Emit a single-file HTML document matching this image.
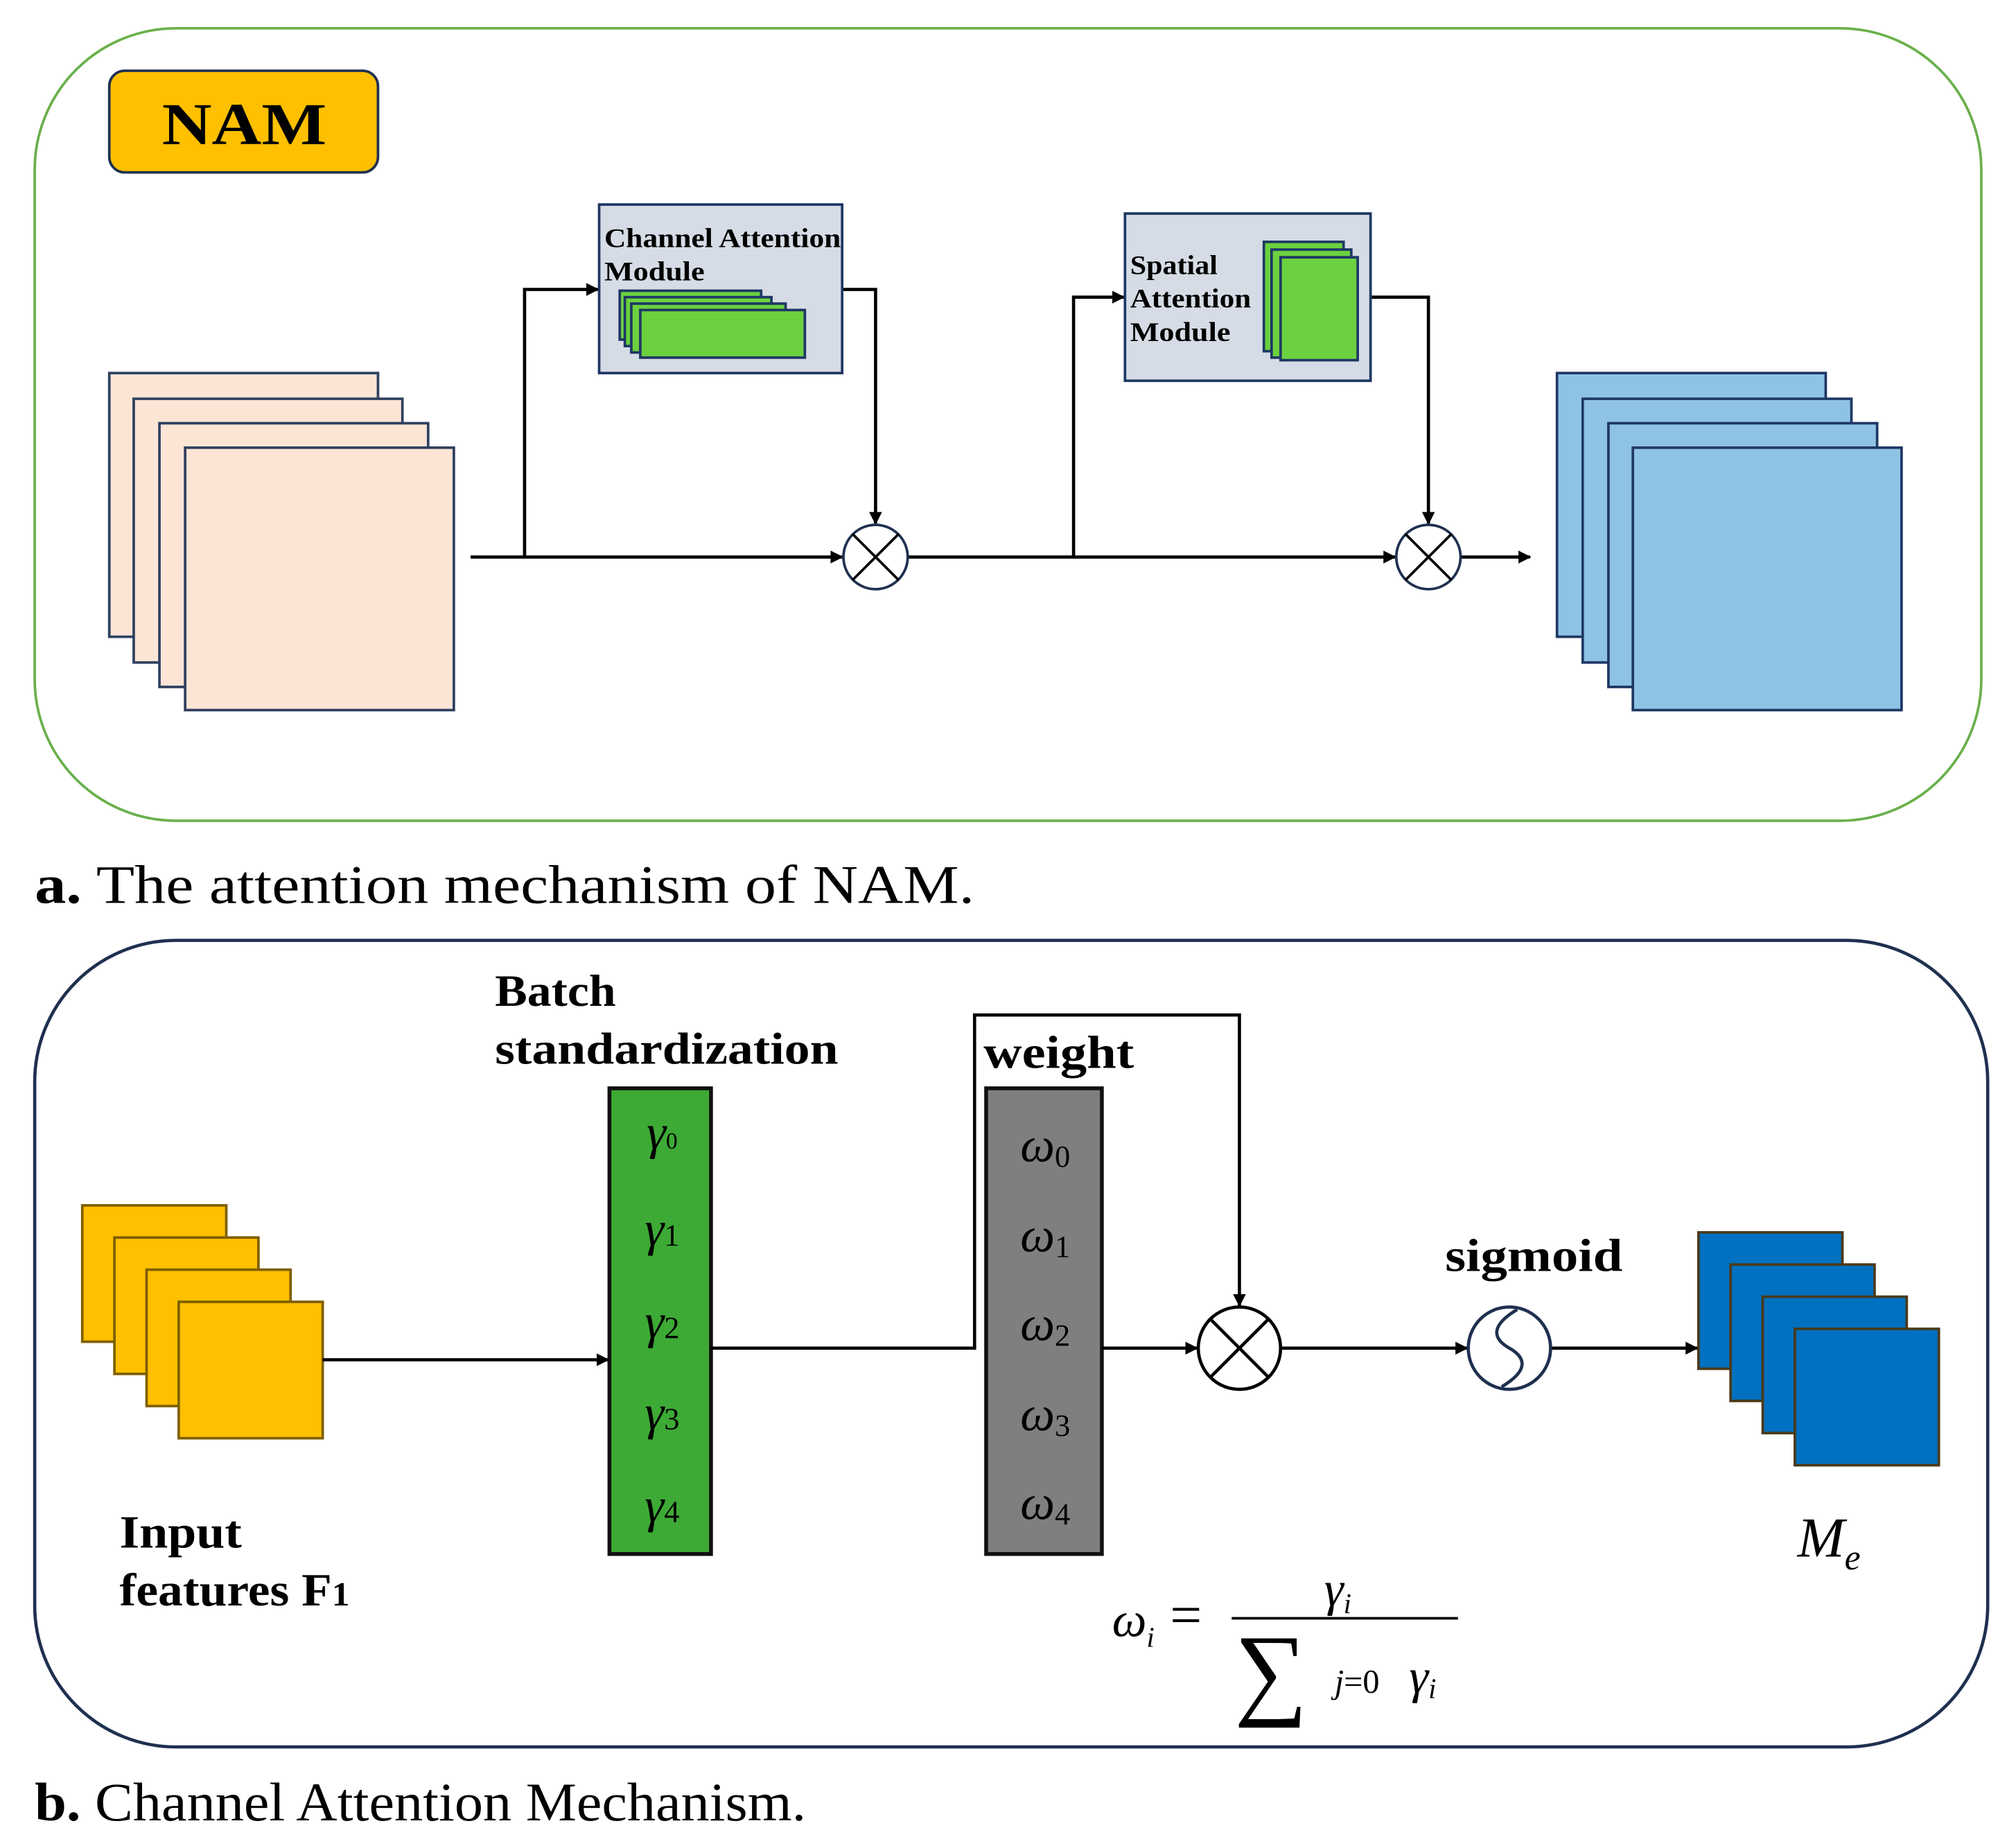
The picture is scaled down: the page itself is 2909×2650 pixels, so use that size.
<!DOCTYPE html>
<html><head><meta charset="utf-8"><style>html,body{margin:0;padding:0;background:#fff}svg{display:block}</style></head>
<body>
<svg width="2909" height="2650" viewBox="0 0 1568 1428" preserveAspectRatio="none" xmlns="http://www.w3.org/2000/svg" font-family="'Liberation Serif', serif">
<defs>
<marker id="ar" markerWidth="10" markerHeight="10" refX="9" refY="5" orient="auto" markerUnits="userSpaceOnUse"><path d="M0,0 L10,5 L0,10 z" fill="#000"/></marker>
</defs>
<rect width="1568" height="1428" fill="#fff"/>
<!-- Panel a -->
<rect x="27" y="22" width="1514" height="616" rx="110" fill="none" stroke="#6ab04c" stroke-width="2"/>
<rect x="85" y="55" width="209" height="79" rx="12" fill="#ffc000" stroke="#1f3050" stroke-width="2"/>
<text x="126" y="112" font-size="46" font-weight="bold" textLength="128" lengthAdjust="spacingAndGlyphs">NAM</text>
<g fill="#fde5d6" stroke="#2f4060" stroke-width="2">
<rect x="85" y="290" width="209" height="205"/><rect x="104" y="310" width="209" height="205"/><rect x="124" y="329" width="209" height="205"/><rect x="144" y="348" width="209" height="204"/>
</g>
<g fill="#8fc3e5" stroke="#1f3864" stroke-width="2">
<rect x="1211" y="290" width="209" height="205"/><rect x="1231" y="310" width="209" height="205"/><rect x="1251" y="329" width="209" height="205"/><rect x="1270" y="348" width="209" height="204"/>
</g>
<g stroke="#000" stroke-width="2.5" fill="none">
<line x1="366" y1="433" x2="655" y2="433" marker-end="url(#ar)"/>
<line x1="706" y1="433" x2="1085" y2="433" marker-end="url(#ar)"/>
<line x1="1136" y1="433" x2="1190" y2="433" marker-end="url(#ar)"/>
<polyline points="408,433 408,225 465,225" marker-end="url(#ar)"/>
<polyline points="655,225 681,225 681,407" marker-end="url(#ar)"/>
<polyline points="835,433 835,231 874,231" marker-end="url(#ar)"/>
<polyline points="1066,231 1111,231 1111,407" marker-end="url(#ar)"/>
</g>
<g stroke="#1f3050" stroke-width="2" fill="#fff">
<circle cx="681" cy="433" r="25"/><circle cx="1111" cy="433" r="25"/>
</g>
<g stroke="#000" stroke-width="2">
<line x1="663" y1="415" x2="699" y2="451"/><line x1="699" y1="415" x2="663" y2="451"/>
<line x1="1093" y1="415" x2="1129" y2="451"/><line x1="1129" y1="415" x2="1093" y2="451"/>
</g>
<rect x="466" y="159" width="189" height="131" fill="#d6dce5" stroke="#1f3864" stroke-width="2"/>
<text x="470" y="192" font-size="21" font-weight="bold" textLength="184" lengthAdjust="spacingAndGlyphs">Channel Attention</text>
<text x="470" y="218" font-size="21" font-weight="bold" textLength="78" lengthAdjust="spacingAndGlyphs">Module</text>
<g fill="#6bd13f" stroke="#1f3864" stroke-width="2">
<rect x="482" y="226" width="110" height="38"/><rect x="486" y="231" width="114" height="38"/><rect x="491" y="236" width="120" height="38"/><rect x="498" y="241" width="128" height="37"/>
</g>
<rect x="875" y="166" width="191" height="130" fill="#d6dce5" stroke="#1f3864" stroke-width="2"/>
<text x="879" y="213" font-size="21" font-weight="bold" textLength="68" lengthAdjust="spacingAndGlyphs">Spatial</text>
<text x="879" y="239" font-size="21" font-weight="bold" textLength="94" lengthAdjust="spacingAndGlyphs">Attention</text>
<text x="879" y="265" font-size="21" font-weight="bold" textLength="78" lengthAdjust="spacingAndGlyphs">Module</text>
<g fill="#6bd13f" stroke="#1f3864" stroke-width="2">
<rect x="983" y="188" width="62" height="85"/><rect x="989" y="194" width="62" height="84"/><rect x="996" y="200" width="60" height="80"/>
</g>
<text x="27" y="702" font-size="42" textLength="731" lengthAdjust="spacingAndGlyphs"><tspan font-weight="bold">a.</tspan> The attention mechanism of NAM.</text>
<!-- Panel b -->
<rect x="27" y="731" width="1519" height="627" rx="110" fill="none" stroke="#1f3050" stroke-width="2.5"/>
<text x="385" y="782" font-size="35" font-weight="bold" textLength="94" lengthAdjust="spacingAndGlyphs">Batch</text>
<text x="385" y="827" font-size="35" font-weight="bold" textLength="267" lengthAdjust="spacingAndGlyphs">standardization</text>
<text x="765" y="830" font-size="36" font-weight="bold" textLength="117" lengthAdjust="spacingAndGlyphs">weight</text>
<text x="1124" y="988" font-size="36" font-weight="bold" textLength="138" lengthAdjust="spacingAndGlyphs">sigmoid</text>
<text x="93" y="1203" font-size="36" font-weight="bold" textLength="95" lengthAdjust="spacingAndGlyphs">Input</text>
<text x="93" y="1248" font-size="36" font-weight="bold" textLength="179" lengthAdjust="spacingAndGlyphs">features F<tspan font-size="26">1</tspan></text>
<g fill="#ffc000" stroke="#7f5f00" stroke-width="2">
<rect x="64" y="937" width="112" height="106"/><rect x="89" y="962" width="112" height="106"/><rect x="114" y="987" width="112" height="106"/><rect x="139" y="1012" width="112" height="106"/>
</g>
<g fill="#0070c0" stroke="#4a3a1a" stroke-width="2">
<rect x="1321" y="958" width="112" height="106"/><rect x="1346" y="983" width="112" height="106"/><rect x="1371" y="1008" width="112" height="106"/><rect x="1396" y="1033" width="112" height="106"/>
</g>
<rect x="474" y="846" width="79" height="362" fill="#3daa35" stroke="#111" stroke-width="3"/>
<rect x="767" y="846" width="90" height="362" fill="#7f7f7f" stroke="#111" stroke-width="3"/>
<g font-size="38" font-style="italic" text-anchor="middle">
<text x="515" y="893">γ<tspan font-size="18" font-style="normal">0</tspan></text>
<text x="515" y="968">γ<tspan font-size="24" font-style="normal">1</tspan></text>
<text x="515" y="1040">γ<tspan font-size="24" font-style="normal">2</tspan></text>
<text x="515" y="1111">γ<tspan font-size="24" font-style="normal">3</tspan></text>
<text x="515" y="1183">γ<tspan font-size="24" font-style="normal">4</tspan></text>
<text x="813" y="903">ω<tspan font-size="24" font-style="normal" dy="4">0</tspan></text>
<text x="813" y="973">ω<tspan font-size="24" font-style="normal" dy="4">1</tspan></text>
<text x="813" y="1042">ω<tspan font-size="24" font-style="normal" dy="4">2</tspan></text>
<text x="813" y="1112">ω<tspan font-size="24" font-style="normal" dy="4">3</tspan></text>
<text x="813" y="1181">ω<tspan font-size="24" font-style="normal" dy="4">4</tspan></text>
</g>
<g stroke="#000" stroke-width="2.5" fill="none">
<line x1="251" y1="1057" x2="473" y2="1057" marker-end="url(#ar)"/>
<polyline points="553,1048 758,1048 758,789 964,789 964,1015" marker-end="url(#ar)"/>
<line x1="857" y1="1048" x2="931" y2="1048" marker-end="url(#ar)"/>
<line x1="996" y1="1048" x2="1141" y2="1048" marker-end="url(#ar)"/>
<line x1="1206" y1="1048" x2="1320" y2="1048" marker-end="url(#ar)"/>
</g>
<circle cx="964" cy="1048" r="32" fill="#fff" stroke="#000" stroke-width="2.5"/>
<line x1="941" y1="1025" x2="987" y2="1071" stroke="#000" stroke-width="2.5"/>
<line x1="987" y1="1025" x2="941" y2="1071" stroke="#000" stroke-width="2.5"/>
<circle cx="1174" cy="1048" r="32" fill="#fff" stroke="#1f3050" stroke-width="2.5"/>
<path d="M1180,1018 C1160,1030 1160,1040 1174,1048 C1188,1056 1188,1066 1168,1078" fill="none" stroke="#1f3050" stroke-width="2.5"/>
<text x="1398" y="1210" font-size="44" font-style="italic">M<tspan font-size="28" dy="10">e</tspan></text>
<!-- formula -->
<text x="865" y="1272" font-size="38" font-style="italic">ω<tspan font-size="22" dy="8">i</tspan></text>
<text x="910" y="1270" font-size="44">=</text>
<line x1="958" y1="1258" x2="1134" y2="1258" stroke="#000" stroke-width="2"/>
<text x="1030" y="1248" font-size="38" font-style="italic">γ<tspan font-size="22" dy="6">i</tspan></text>
<text x="960" y="1326" font-size="80">∑</text>
<text x="1038" y="1316" font-size="26" font-style="italic">j<tspan font-style="normal">=0</tspan></text>
<text x="1096" y="1316" font-size="38" font-style="italic">γ<tspan font-size="22" dy="4">i</tspan></text>
<text x="27" y="1415" font-size="42" textLength="600" lengthAdjust="spacingAndGlyphs"><tspan font-weight="bold">b.</tspan> Channel Attention Mechanism.</text>
</svg>
</body></html>
